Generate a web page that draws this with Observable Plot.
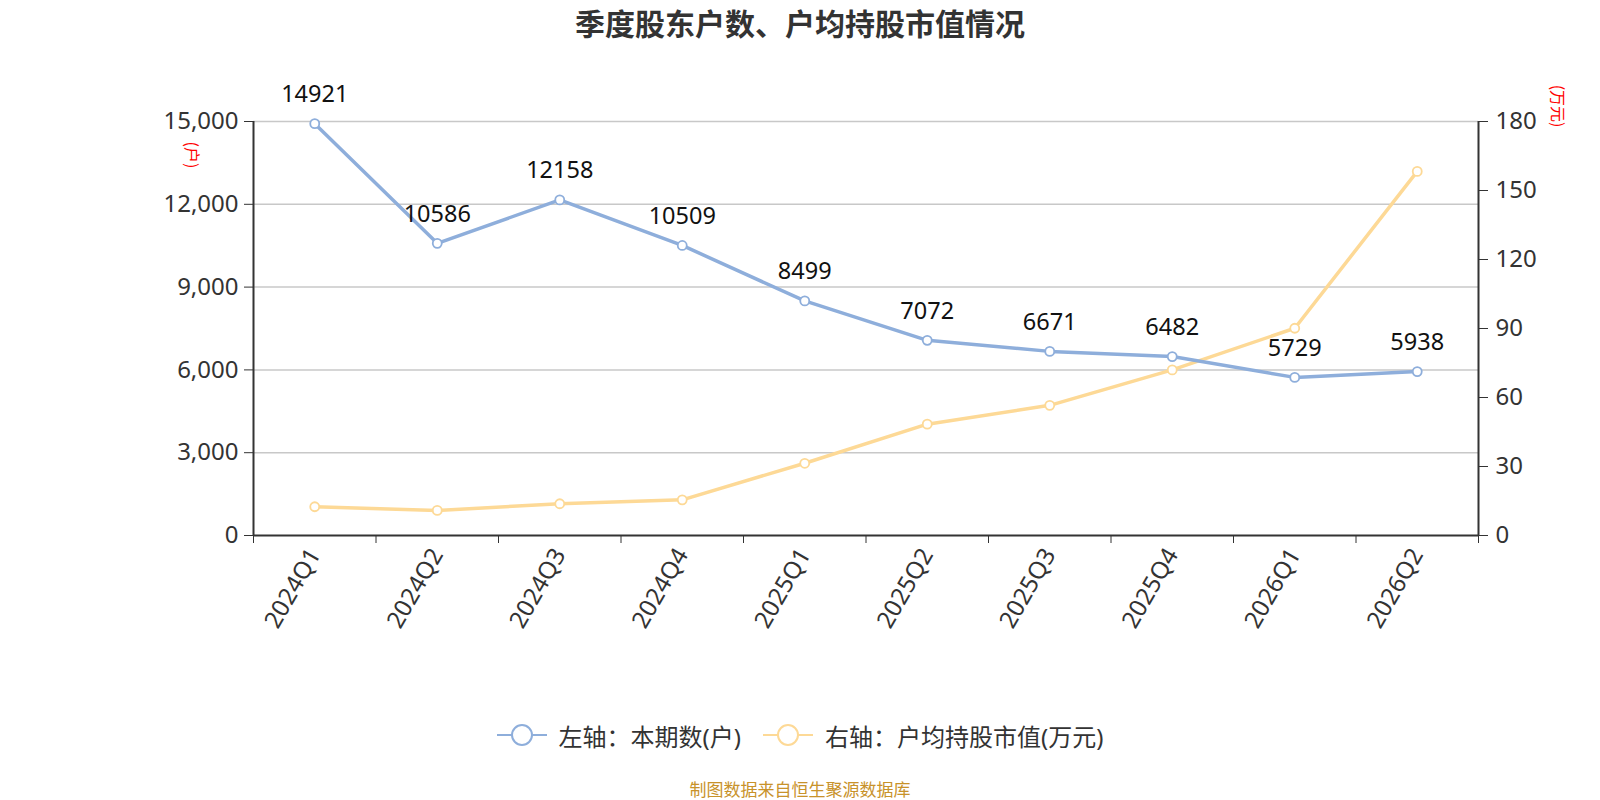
<!DOCTYPE html>
<html>
<head>
<meta charset="utf-8">
<script src="https://cdn.jsdelivr.net/npm/d3@7"></script>
<script src="https://cdn.jsdelivr.net/npm/@observablehq/plot@0.6"></script>
<style>
  html, body { margin: 0; padding: 0; background: #fff; }
  body { width: 1600px; height: 800px; overflow: hidden; font-family: "Noto Sans", "Noto Sans CJK SC", sans-serif; }
  #title { height: 44px; line-height: 44px; text-align: center; font-size: 30px; font-weight: bold; color: #333; font-family: "Noto Sans CJK SC", sans-serif; }
  #chart svg { display: block; }
  #legend { height: 78px; padding-top: 12px; box-sizing: content-box; display: flex; justify-content: center; align-items: center; gap: 22px; font-size: 24px; color: #333; }
  #legend .item { display: flex; align-items: center; gap: 12px; }
  #caption { height: 30px; line-height: 30px; text-align: center; font-size: 17px; color: #c8922a; font-family: "Noto Sans CJK SC", sans-serif; }
</style>
</head>
<body>
<div id="title">季度股东户数、户均持股市值情况</div>
<div id="chart"></div>
<div id="legend"></div>
<div id="caption">制图数据来自恒生聚源数据库</div>
<script>
// ---- data ----
const quarters = ["2024Q1","2024Q2","2024Q3","2024Q4","2025Q1","2025Q2","2025Q3","2025Q4","2026Q1","2026Q2"];
const holders = [14921, 10586, 12158, 10509, 8499, 7072, 6671, 6482, 5729, 5938];
const avgValue = [12.5, 10.9, 13.8, 15.5, 31.4, 48.4, 56.6, 72.0, 90.1, 158.3];
const leftTicks = [0, 3000, 6000, 9000, 12000, 15000];
const rightTicks = [0, 30, 60, 90, 120, 150, 180];
const seriesNames = ["左轴：本期数(户)", "右轴：户均持股市值(万元)"];
const axisNames = ["(户)", "(万元)"];
const colors = ["#8eaedb", "#fdd996"];

const k = 15000 / 180; // right axis -> left axis
const rowsA = quarters.map((q, i) => ({i: i + 0.5, q, v: holders[i]}));
const rowsB = quarters.map((q, i) => ({i: i + 0.5, q, v: avgValue[i] * k}));

const chart = Plot.plot({
  width: 1600,
  height: 640,
  marginLeft: 253,
  marginRight: 122,
  marginTop: 77,
  marginBottom: 149,
  style: {fontFamily: "'Noto Sans', 'Noto Sans CJK SC', sans-serif", fontSize: "24px", color: "#333", background: "transparent"},
  x: {type: "linear", domain: [0, quarters.length]},
  y: {domain: [0, 15000]},
  marks: [
    Plot.gridY(leftTicks.filter(d => d > 0), {stroke: "#c8c8c8", strokeOpacity: 1, strokeWidth: 1.5}),
    Plot.axisY({anchor: "left", ticks: leftTicks, tickFormat: d3.format(","), tickSize: 9, tickPadding: 6, fontSize: 24, label: null, stroke: "#333"}),
    Plot.axisY({anchor: "right", ticks: rightTicks.map(v => v * k), tickFormat: d => String(Math.round(d / k)), tickSize: 9, tickPadding: 8, fontSize: 24, label: null, stroke: "#333"}),
    Plot.axisX({ticks: d3.range(0, quarters.length + 1), tickFormat: () => "", tickSize: 8, label: null, stroke: "#333"}),
    Plot.axisX({ticks: quarters.map((q, i) => i + 0.5), tickFormat: d => quarters[Math.floor(d)], tickSize: 0, tickPadding: 15, tickRotate: -60, fontSize: 24, label: null}),
    Plot.ruleX([0, quarters.length], {stroke: "#333", strokeWidth: 2}),
    Plot.ruleY([0], {stroke: "#333", strokeWidth: 2}),
    Plot.line(rowsB, {x: "i", y: "v", stroke: colors[1], strokeWidth: 3.5}),
    Plot.dot(rowsB, {x: "i", y: "v", r: 4.5, fill: "white", stroke: colors[1], strokeWidth: 1.8}),
    Plot.line(rowsA, {x: "i", y: "v", stroke: colors[0], strokeWidth: 3.5}),
    Plot.dot(rowsA, {x: "i", y: "v", r: 4.5, fill: "white", stroke: colors[0], strokeWidth: 1.8}),
    Plot.text(rowsA, {x: "i", y: "v", text: d => String(d.v), dy: -29, fontSize: 23.5, fill: "#111"}),
    Plot.text([axisNames[0]], {frameAnchor: "top-left", dx: -56, dy: 20, rotate: 90, fill: "red", fontSize: 16, fontFamily: "'Noto Sans CJK SC', sans-serif"}),
    Plot.text([axisNames[1]], {frameAnchor: "top-right", dx: 85, dy: 6, rotate: 90, fill: "red", fontSize: 16, fontFamily: "'Noto Sans CJK SC', sans-serif"})
  ]
});
document.getElementById("chart").appendChild(chart);

// legend
const legend = d3.select("#legend");
seriesNames.forEach((name, j) => {
  const item = legend.append("div").attr("class", "item");
  const svg = item.append("svg").attr("width", 50).attr("height", 26);
  svg.append("line").attr("x1", 0).attr("x2", 50).attr("y1", 13).attr("y2", 13).attr("stroke", colors[j]).attr("stroke-width", 2);
  svg.append("circle").attr("cx", 25).attr("cy", 13).attr("r", 10).attr("fill", "white").attr("stroke", colors[j]).attr("stroke-width", 2);
  item.append("span").text(name);
});
</script>
</body>
</html>
